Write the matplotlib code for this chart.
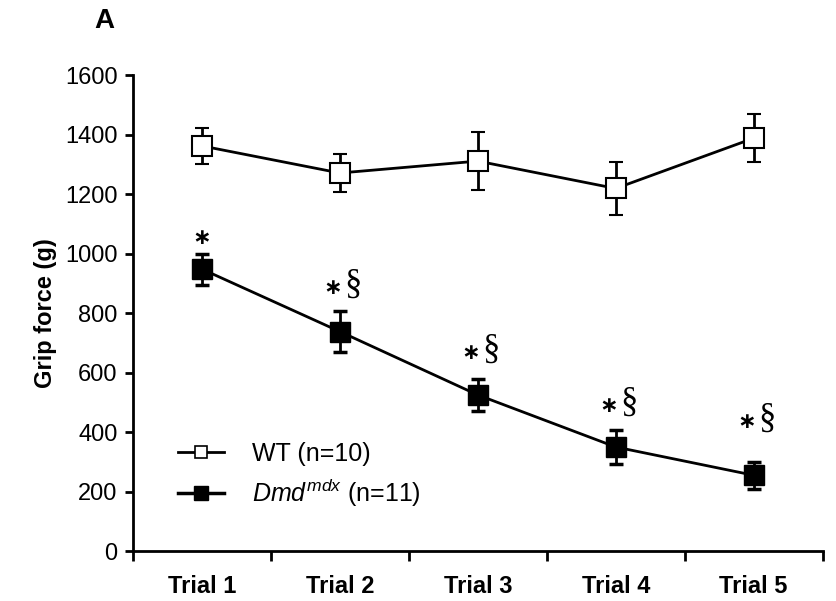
import numpy as np
import matplotlib
matplotlib.use("Agg")
import matplotlib.pyplot as plt
from matplotlib.lines import Line2D

plt.rcParams["font.family"] = ["Liberation Sans", "DejaVu Sans"]
plt.rcParams["mathtext.fontset"] = "custom"
plt.rcParams["mathtext.rm"] = "Liberation Sans"
plt.rcParams["mathtext.it"] = "Liberation Sans:italic"

trials = ["Trial 1", "Trial 2", "Trial 3", "Trial 4", "Trial 5"]
wt_mean = [1362, 1271, 1311, 1219, 1388]
wt_err = [60, 65, 98, 88, 80]
mdx_mean = [948, 738, 525, 350, 255]
mdx_err = [52, 70, 54, 57, 45]
star = [True, True, True, True, True]
section = [False, True, True, True, True]

fig = plt.figure(figsize=(8.36, 6.01), dpi=100)
ax = fig.add_axes([0.159, 0.083, 0.825, 0.792])

x = np.arange(1, len(trials) + 1)
ax.errorbar(x, wt_mean, yerr=wt_err, color="black", lw=2, marker="s", ms=14,
            mfc="white", mec="black", mew=1.5, capsize=5, capthick=2.5, elinewidth=2, zorder=3)
ax.errorbar(x, mdx_mean, yerr=mdx_err, color="black", lw=2, marker="s", ms=14,
            mfc="black", mec="black", capsize=5, capthick=2.5, elinewidth=2, zorder=3)

# significance marks above Dmd-mdx points (* vs WT, § vs trial 1)
offs = [16, 23, 26, 24, 40]
for xi, m, e, st, sec, o in zip(x, mdx_mean, mdx_err, star, section, offs):
    dx = -7 if sec else 0
    if st:
        ax.annotate("\u2217", (xi, m + e), xytext=(dx, o), textcoords="offset pixels",
                    ha="center", va="center", fontsize=16, fontweight="bold",
                    family="DejaVu Sans")
    if sec:
        ax.annotate("§", (xi, m + e), xytext=(13, o + 4), textcoords="offset pixels",
                    ha="center", va="center", fontsize=25, family="Liberation Serif")

ax.set_xlim(0.5, len(trials) + 0.5)
ax.set_ylim(0, 1600)
ax.set_yticks(np.arange(0, 1601, 200))
ax.set_xticks(x, trials, fontsize=17, fontweight="bold")
ax.set_xticks(np.arange(0.5, len(trials) + 1), minor=True)
ax.tick_params(axis="x", which="major", length=0, pad=17)
ax.tick_params(axis="x", which="minor", length=7, width=2)
ax.tick_params(axis="y", length=6, width=2, labelsize=17, pad=5)
for s in ["top", "right"]:
    ax.spines[s].set_visible(False)
for s in ["left", "bottom"]:
    ax.spines[s].set_linewidth(2)
ax.set_ylabel("Grip force (g)", fontsize=17, fontweight="bold", labelpad=6)

handles = [
    Line2D([], [], color="black", lw=2, marker="s", ms=8, mfc="white", mec="black", mew=1.2),
    Line2D([], [], color="black", lw=2.5, marker="s", ms=10.5, mfc="black", mec="black"),
]
ax.legend(handles, ["WT (n=10)", r"$\mathit{Dmd}^{\mathit{mdx}}$ (n=11)"], loc="lower left",
          bbox_to_anchor=(0.065, 0.088), frameon=False, fontsize=18, handlelength=1.85,
          handletextpad=1.1, labelspacing=0.45, borderpad=0, borderaxespad=0)

fig.text(0.125, 0.965, "A", fontsize=20, fontweight="bold", ha="center", va="center")

fig.savefig("out.png", dpi=100)
